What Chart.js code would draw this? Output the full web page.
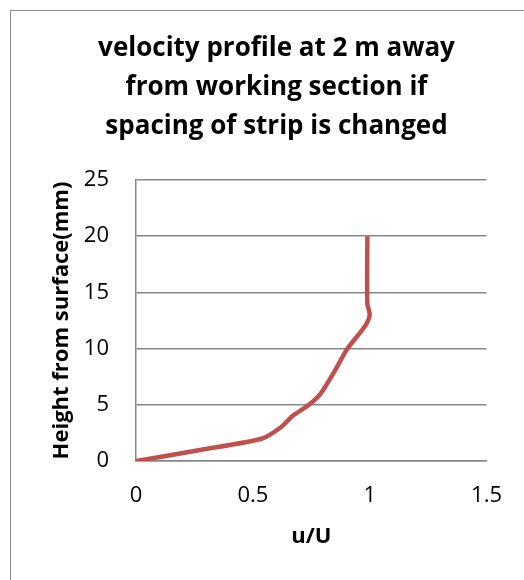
<!DOCTYPE html>
<html>
<head>
<meta charset="utf-8">
<script src="https://cdn.jsdelivr.net/npm/chart.js@4"></script>
<style>
  html, body { margin: 0; padding: 0; background: #fff; }
  #wrap { position: relative; width: 524px; height: 580px; }
  #frame {
    position: absolute; left: 10px; top: 10px; width: 540px; height: 600px;
    border: 1.5px solid #8c8c8c; box-sizing: border-box;
  }
  canvas { position: absolute; left: 0; top: 0; }
</style>
</head>
<body>
<div id="wrap">
  <div id="frame"></div>
  <canvas id="chart" width="524" height="580"></canvas>
</div>
<script>
// velocity profile
const heights = [0, 1, 2, 3, 4, 5, 6, 8, 10, 12, 13, 14, 20];
const uOverU = [0, 0.28, 0.54, 0.62, 0.67, 0.74, 0.79, 0.85, 0.905, 0.98, 1.0, 0.99, 0.99];
const xTicks = [0, 0.5, 1, 1.5];
const yTicks = [0, 5, 10, 15, 20, 25];
const titleLines = ['velocity profile at 2 m away', 'from working section if', 'spacing of strip is changed'];

const FONT = '"Open Sans", Lato, sans-serif';
const GRID = '#878787';

const points = heights.map((h, i) => ({ x: uOverU[i], y: h }));

new Chart(document.getElementById('chart'), {
  type: 'scatter',
  data: {
    datasets: [{
      data: points,
      showLine: true,
      borderColor: '#c0504d',
      backgroundColor: '#c0504d',
      borderWidth: 4.5,
      pointRadius: 0,
      tension: 0.25
    }]
  },
  options: {
    responsive: false,
    animation: false,
    layout: { padding: { left: 49, right: 20, top: 29, bottom: 30 } },
    plugins: {
      legend: { display: false },
      tooltip: { enabled: false },
      title: {
        display: true,
        text: titleLines,
        color: '#000',
        font: { family: FONT, size: 26, weight: 'bold', lineHeight: '39px' },
        padding: { top: 0, bottom: 34 }
      }
    },
    scales: {
      x: {
        type: 'linear',
        min: 0, max: 1.5,
        afterBuildTicks: (s) => { s.ticks = xTicks.map(v => ({ value: v })); },
        afterFit: (s) => { s.height = 89; },
        grid: { display: false, drawTicks: false },
        border: { color: GRID, width: 1.5 },
        ticks: { color: '#000', font: { family: FONT, size: 22 }, padding: 22, callback: (v) => String(v) },
        title: {
          display: true, text: 'u/U', color: '#000',
          font: { family: FONT, size: 22, weight: 'bold' }, padding: { top: 13, bottom: 0 }
        }
      },
      y: {
        type: 'linear',
        min: 0, max: 25,
        afterBuildTicks: (s) => { s.ticks = yTicks.map(v => ({ value: v })); },
        afterFit: (s) => { s.width = 87; },
        grid: { color: GRID, lineWidth: 1.5, drawTicks: false },
        border: { color: GRID, width: 1.5 },
        ticks: { color: '#000', font: { family: FONT, size: 22 }, padding: 27, callback: (v) => String(v) },
        title: {
          display: true, text: 'Height from surface(mm)', color: '#000',
          font: { family: FONT, size: 22, weight: 'bold' }, padding: { top: 0, bottom: 9 }
        }
      }
    }
  }
});
</script>
</body>
</html>
